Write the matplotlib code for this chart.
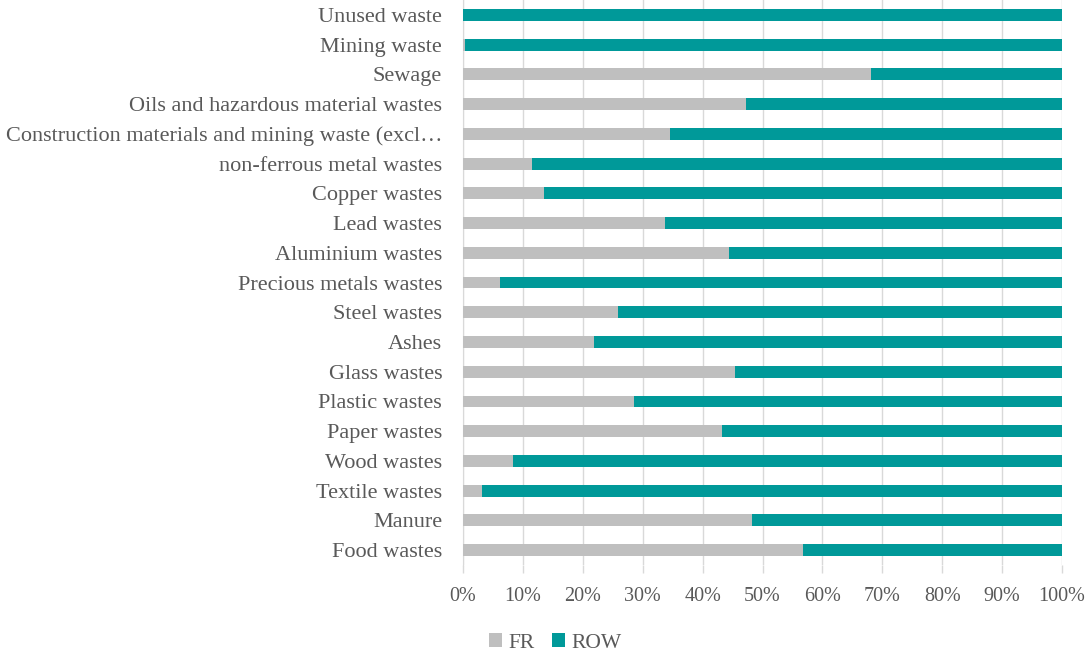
# 100% stacked horizontal bar chart: FR vs ROW share per waste type
import matplotlib
matplotlib.use("Agg")
from matplotlib import pyplot as plt
from matplotlib.ticker import PercentFormatter

# data (bottom to top)
categories = ["Food wastes", "Manure", "Textile wastes", "Wood wastes", "Paper wastes",
              "Plastic wastes", "Glass wastes", "Ashes", "Steel wastes",
              "Precious metals wastes", "Aluminium wastes", "Lead wastes", "Copper wastes",
              "non-ferrous metal wastes", "Construction materials and mining waste (excl\u2026",
              "Oils and hazardous material wastes", "Sewage", "Mining waste", "Unused waste"]
fr = [56.7, 48.3, 3.1, 8.4, 43.3, 28.5, 45.4, 21.8, 25.8, 6.2, 44.4, 33.8, 13.6,
      11.6, 34.5, 47.2, 68.1, 0.4, 0.0]
row = [100 - v for v in fr]
xticks = [0, 10, 20, 30, 40, 50, 60, 70, 80, 90, 100]

txt = "#595959"
plt.rcParams['font.family'] = ['Liberation Serif', 'DejaVu Serif']

fig = plt.figure(figsize=(10.85, 6.56), dpi=100)
ax = fig.add_axes([463 / 1085, 1 - 565 / 656, 599 / 1085, 565 / 656])

y = range(len(categories))
ax.barh(y, fr, height=0.4, color="#BFBFBF", label="FR", zorder=3)
ax.barh(y, row, left=fr, height=0.4, color="#009999", label="ROW", zorder=3)

ax.set_xlim(0, 100)
ax.set_ylim(-0.5, len(categories) - 0.5)
ax.set_xticks(xticks)
ax.xaxis.set_major_formatter(PercentFormatter(decimals=0))
ax.set_yticks(list(y))
ax.set_yticklabels(categories)
ax.tick_params(axis="y", length=0, pad=15, labelsize=16, labelcolor=txt)
ax.tick_params(axis="x", length=6, width=1, color="#D9D9D9", pad=10,
               labelsize=14.5, labelcolor=txt)
ax.grid(axis="x", color="#D9D9D9", linewidth=1, zorder=0)
for s in ["top", "right", "bottom"]:
    ax.spines[s].set_visible(False)
ax.spines["left"].set_color("#D9D9D9")

fig.legend(loc="center", bbox_to_anchor=(555 / 1085, 1 - 643 / 656), ncol=2, frameon=False,
           fontsize=15.5, labelcolor=txt, handlelength=0.6, handleheight=0.6,
           handletextpad=0.3, columnspacing=0.8)

plt.savefig("out.png", dpi=100)
